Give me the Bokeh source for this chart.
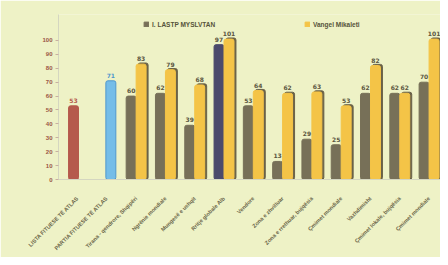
from bokeh.plotting import figure
from bokeh.models import Range1d, FixedTicker, Legend, LegendItem, ColumnDataSource
from bokeh.embed import file_html
from bokeh.resources import INLINE
from bokeh.core.properties import value
import math

categories = [
    "LISTA FITUESE TË ATLAS",
    "PARTIA FITUESE TË ATLAS",
    "Tirana - qendrore, Shqipëri",
    "Ngrënie mondiale",
    "Mungesë e ushqit",
    "Rritje globale Alb",
    "Vendore",
    "Zona e zhvilluar",
    "Zona e rrethuar, bujqësia",
    "Çmimet mondiale",
    "Vazhdimisht",
    "Çmimet lokale, bujqësia",
    "Çmimet mondiale",
]
single_red = 53
single_blue = 71
series_a_name = "I. LASTP MYSLVTAN"
series_b_name = "Vangel Mikaleti"
series_a = [60, 62, 39, 97, 53, 13, 29, 25, 62, 62, 70]
series_b = [83, 79, 68, 101, 64, 62, 63, 53, 82, 62, 101]
y_ticks = [0, 10, 20, 30, 40, 50, 60, 70, 80, 90, 100]

BG = "#eef2c6"
W = 0.34
OFF = 0.17

p = figure(width=440, height=257, output_backend="svg", toolbar_location=None,
           x_range=Range1d(-0.150, 12.89), y_range=Range1d(0, 118.7),
           background_fill_color=BG, border_fill_color=BG,
           min_border_left=58, min_border_right=0, min_border_top=14, min_border_bottom=78)
p.outline_line_color = None
p.xgrid.visible = False
p.ygrid.visible = False

centers = [i + 0.5 for i in range(len(categories))]

# single bars
p.vbar(x=[centers[0] - 0.137], top=[single_red], width=W, color="#b55a4c", border_radius=2)
p.vbar(x=[centers[1] + 0.137], top=[single_blue], width=W, fill_color="#74bde8",
       line_color="#4f97cc", line_width=1, border_radius=2)
p.text(x=[centers[0] - 0.137], y=[single_red], text=[str(single_red)], y_offset=-3,
       text_align="center", text_baseline="bottom", text_font_size="6px",
       text_font_style="bold", text_color="#b55a4c", text_font=value("DejaVu Sans"))
p.text(x=[centers[1] + 0.137], y=[single_blue], text=[str(single_blue)], y_offset=-3,
       text_align="center", text_baseline="bottom", text_font_size="6px",
       text_font_style="bold", text_color="#4f97cc", text_font=value("DejaVu Sans"))

xa = [c - OFF for c in centers[2:]]
xb = [c + OFF for c in centers[2:]]
colors_a = ["#777058"] * len(series_a)
colors_a[3] = "#4b4a6c"
src_a = ColumnDataSource(dict(x=xa, top=series_a, color=colors_a, lbl=[str(v) for v in series_a]))
src_b = ColumnDataSource(dict(x=xb, top=series_b, lbl=[str(v) for v in series_b]))
src_s = ColumnDataSource(dict(x=[v + 0.068 for v in xb], top=[v + 0.8 for v in series_b]))

ra = p.vbar(x="x", top="top", width=W, color="color", source=src_a, border_radius=2)
p.vbar(x="x", top="top", width=W, color="#6a6248", source=src_s, border_radius=2)
rb = p.vbar(x="x", top="top", width=W, color="#f4c447", source=src_b, border_radius=2)

p.text(x="x", y="top", text="lbl", source=src_a, y_offset=-3, text_align="center",
       text_baseline="bottom", text_font_size="6px", text_font_style="bold",
       text_color="#5a5540", text_font=value("DejaVu Sans"))
p.text(x="x", y="top", text="lbl", source=src_b, y_offset=-3, text_align="center",
       text_baseline="bottom", text_font_size="6px", text_font_style="bold",
       text_color="#5a5540", text_font=value("DejaVu Sans"))

# axes
p.yaxis.ticker = FixedTicker(ticks=y_ticks)
p.yaxis.major_label_text_font_size = "6px"
p.yaxis.major_label_text_font_style = "bold"
p.yaxis.major_label_text_color = "#9a5544"
p.yaxis.axis_line_color = "#d4d6c0"
p.yaxis.major_tick_line_color = "#c8b0a0"
p.yaxis.major_tick_out = 3
p.yaxis.major_tick_in = 0
p.yaxis.minor_tick_line_color = None
p.yaxis.major_label_standoff = 3

p.xaxis.ticker = FixedTicker(ticks=centers)
p.xaxis.major_label_overrides = {c: n for c, n in zip(centers, categories)}
p.xaxis.major_label_orientation = math.pi / 4
p.xaxis.major_label_text_font_size = "5.5px"
p.xaxis.major_label_text_font_style = "bold"
p.xaxis.major_label_text_color = "#6a6548"
p.xaxis.axis_line_color = "#d4d6c0"
p.xaxis.major_tick_line_color = None
p.xaxis.minor_tick_line_color = None
p.xaxis.major_label_standoff = 12

for r, name, loc in [(ra, series_a_name, (85, 151)), (rb, series_b_name, (246, 151))]:
    lg = Legend(items=[LegendItem(label=name, renderers=[r])], location=loc,
                orientation="horizontal", padding=0, margin=0, spacing=0,
                glyph_width=6, glyph_height=6, label_standoff=3,
                label_text_font_size="6.5px", label_text_font_style="bold",
                label_text_color="#55523a", label_height=8,
                background_fill_alpha=0, border_line_alpha=0)
    p.add_layout(lg, "center")

open("out.html", "w").write(file_html(p, INLINE))
